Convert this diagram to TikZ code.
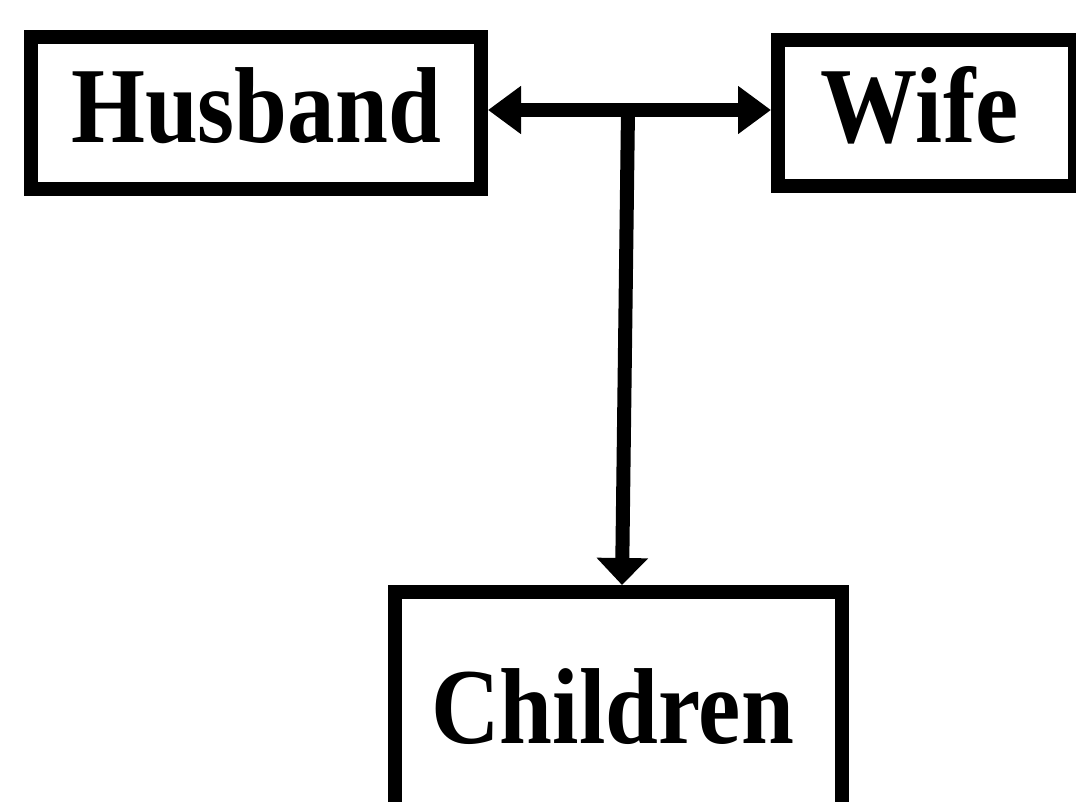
\documentclass[tikz,border=0pt]{standalone}
\usepackage{fontspec}
\usepackage{graphicx}
\setmainfont{Liberation Serif}
\usetikzlibrary{arrows.meta}
\begin{document}
\begin{tikzpicture}[x=1pt,y=-1pt,
  box/.style={draw=black, line width=14pt, inner sep=0pt,
    text height=71pt, text depth=12pt,
    font=\fontsize{108}{108}\selectfont\bfseries},
  link/.style={line width=14pt, black},
  htip/.style={-{Triangle[length=33pt,width=46pt]}},
  vtip/.style={-{Triangle[length=27pt,width=50pt]}}]
\useasboundingbox (0,0) rectangle (1076,801);
\fill[white] (0,0) rectangle (1076,801);
\clip (0,0) rectangle (1076,801);

% the three family members
\node[box, minimum width=450pt, minimum height=152pt] (husband) at (256,113)
  {\scalebox{0.88}[1]{Husband}};
\node[box, minimum width=297pt, minimum height=146pt] (wife) at (926.5,113)
  {\hspace*{-14pt}\scalebox{0.9}[1]{Wife}};
\node[box, minimum width=447pt, minimum height=243pt] (children) at (618.5,713.5)
  {\hspace*{-12pt}\scalebox{0.88}[1]{Children}};

% junction on the marriage line
\coordinate (j) at (628,110);

% marriage line with arrows both ways
\draw[link, htip] (j) -- (wife.west |- j);
\draw[link, htip] (j) -- (husband.east |- j);

% descent line to the children
\draw[link, vtip] (j) -- ([xshift=3.5pt]children.north);
\end{tikzpicture}
\end{document}
